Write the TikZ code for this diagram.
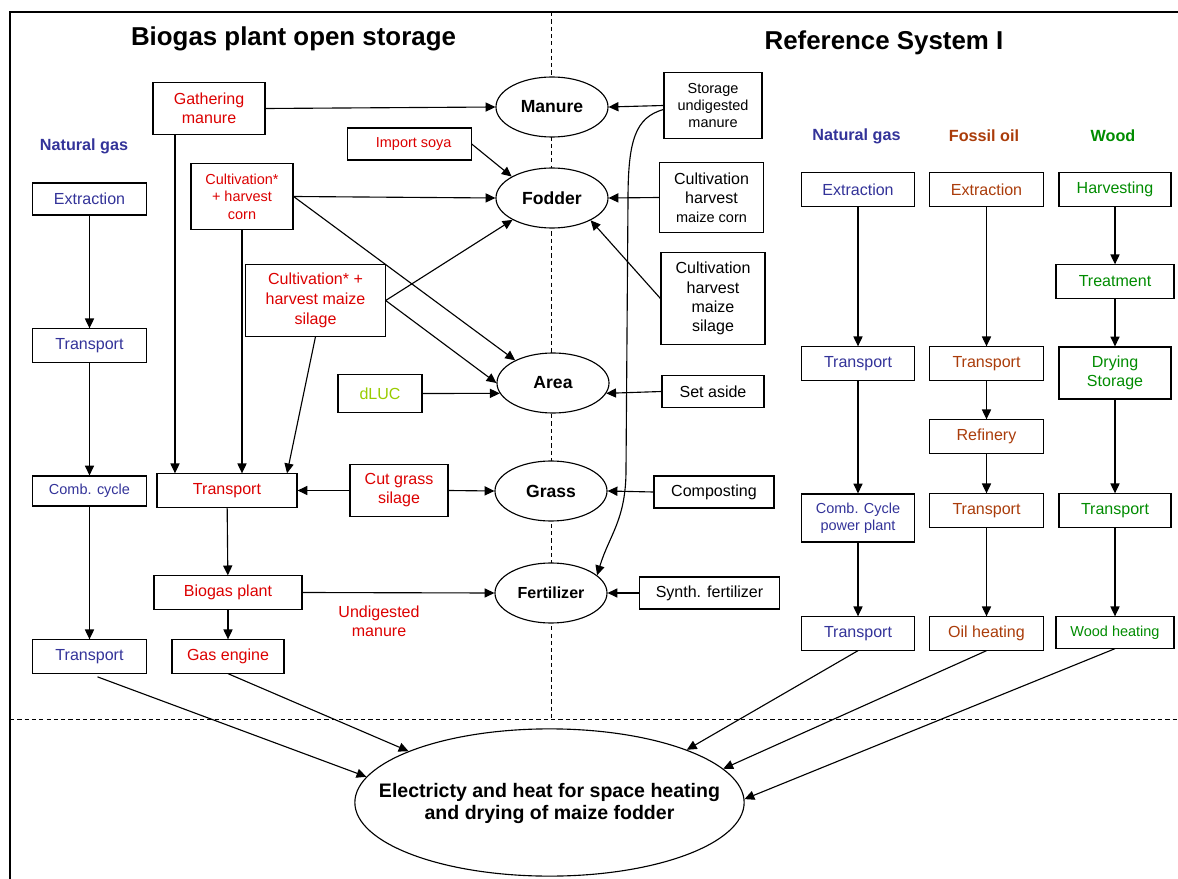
\documentclass[tikz,border=0pt]{standalone}
\usepackage{fontspec}
\setmainfont{Liberation Sans}
\usetikzlibrary{arrows.meta,shapes.geometric}
\definecolor{gasblue}{RGB}{51,51,153}
\definecolor{oilbrown}{RGB}{170,60,10}
\definecolor{woodgreen}{RGB}{0,140,0}
\definecolor{bioRed}{RGB}{220,0,0}
\definecolor{lucgreen}{RGB}{153,204,0}
\newcommand{\nrm}{\fontsize{11.4}{13.6}\selectfont}
\newcommand{\sml}{\fontsize{10.3}{12.4}\selectfont}
\tikzset{every picture/.style={line width=0.8pt}}
\tikzset{
  box/.style={draw, rectangle, fill=white, inner sep=0pt, align=center, font=\nrm},
  sz/.style 2 args={minimum width=#1cm, minimum height=#2cm},
  blob/.style={draw, ellipse, fill=white, inner sep=0pt, minimum width=2.8cm, minimum height=1.5cm, font=\bfseries\fontsize{12.5}{15}\selectfont},
  head/.style={font=\bfseries\fontsize{11.5}{14}\selectfont},
  title/.style={font=\bfseries\fontsize{18.4}{22}\selectfont},
  sep/.style={line width=0.6pt, dash pattern=on 3pt off 2.2pt}
}

\begin{document}
\begin{tikzpicture}[x=0.025cm, y=-0.025cm, >={Triangle[length=7pt,width=6.5pt]}]
    \useasboundingbox (0,0) rectangle (1178,879);
    \draw[line width=1.4pt] (1178,12) -- (10,12) -- (10,879);
    \draw[sep] (551,12) -- (551,719);
    \draw[sep] (10,719) -- (1178,719);

    \node[title] (ttlbio) at (293.5,39) {Biogas plant open storage};
    \node[title] (ttlref) at (884,43) {Reference System I};

    % biogas side, natural gas column
    \node[head, text=gasblue] (ngL) at (84,146) {Natural gas};
    \node[box, sz={2.83}{0.8}, text=gasblue] (ngext) at (89.5,199) {Extraction};
    \node[box, sz={2.83}{0.83}, text=gasblue] (ngtr) at (89.5,345.5) {Transport};
    \node[box, sz={2.83}{0.75}, text=gasblue, font=\sml] (ngcomb) at (89.5,491) {Comb. cycle};
    \node[box, sz={2.83}{0.83}, text=gasblue] (ngtrb) at (89.5,656.5) {Transport};

    % biogas chain
    \node[box, sz={2.8}{1.28}, text=bioRed] (gath) at (209,108.5) {Gathering\\manure};
    \node[box, sz={3.08}{0.8}, text=bioRed, font=\sml] (soya) at (409.5,144) {\hspace{6pt}Import soya};
    \node[box, sz={2.55}{1.63}, text=bioRed, font=\sml] (corn) at (242,196.5) {Cultivation*\\+ harvest\\corn};
    \node[box, sz={3.48}{1.78}, text=bioRed, font=\fontsize{11.4}{14.2}\selectfont] (silage) at (315.5,300.5) {Cultivation* +\\harvest maize\\silage};
    \node[box, sz={2.1}{0.93}, text=lucgreen] (dluc) at (380,393.5) {dLUC};
    \node[box, sz={3.5}{0.83}, text=bioRed] (trred) at (227,490.5) {Transport};
    \node[box, sz={2.45}{1.28}, text=bioRed] (cutgrass) at (399,490.5) {Cut grass\\silage};
    \node[box, sz={3.7}{0.83}, text=bioRed] (biogas) at (228,592.5) {Biogas plant};
    \node[box, sz={2.8}{0.83}, text=bioRed] (gaseng) at (228,656.5) {Gas engine};
    \node[text=bioRed, align=center, font=\nrm] (undig) at (379,621) {Undigested\\manure};

    % middle
    \node[blob] (manure) at (552,107) {Manure};
    \node[blob] (fodder) at (552,198) {Fodder};
    \node[blob] (area) at (553,383) {Area};
    \node[blob] (grass) at (551,491) {Grass};
    \node[blob, font=\bfseries\nrm] (fert) at (551,593) {Fertilizer};

    \node[box, sz={2.45}{1.63}, font=\sml] (storage) at (713,105.5) {Storage\\undigested\\manure};
    \node[box, sz={2.58}{1.73}] (cmc) at (711.5,197.5) {Cultivation\\harvest\\{\sml maize corn}};
    \node[box, sz={2.6}{2.28}] (cms) at (713,298.5) {Cultivation\\harvest\\maize\\silage};
    \node[box, sz={2.55}{0.8}] (setaside) at (713,391.5) {Set aside};
    \node[box, sz={3.0}{0.8}] (compost) at (714,492) {Composting};
    \node[box, sz={3.48}{0.8}] (synth) at (709.5,593) {Synth. fertilizer};

    % reference system
    \node[head, text=gasblue] (rngL) at (856.5,136) {Natural gas};
    \node[head, text=oilbrown] (rfoL) at (984,136) {Fossil oil};
    \node[head, text=woodgreen] (rwL) at (1113,136) {Wood};

    \node[box, sz={2.83}{0.83}, text=gasblue] (rngext) at (858,189.5) {Extraction};
    \node[box, sz={2.83}{0.83}, text=gasblue] (rngtr) at (858,363.5) {Transport};
    \node[box, sz={2.83}{1.2}, text=gasblue, font=\sml] (rngcomb) at (858,518) {Comb. Cycle\\power plant};
    \node[box, sz={2.83}{0.83}, text=gasblue] (rngtrb) at (858,633.5) {Transport};

    \node[box, sz={2.83}{0.83}, text=oilbrown] (foext) at (986.5,189.5) {Extraction};
    \node[box, sz={2.83}{0.83}, text=oilbrown] (fotr) at (986.5,363.5) {Transport};
    \node[box, sz={2.83}{0.83}, text=oilbrown] (foref) at (986.5,436.5) {Refinery};
    \node[box, sz={2.83}{0.83}, text=oilbrown] (fotrb) at (986.5,510.5) {Transport};
    \node[box, sz={2.83}{0.83}, text=oilbrown] (foheat) at (986.5,633.5) {Oil heating};

    \node[box, sz={2.8}{0.83}, text=woodgreen] (wharv) at (1115,189.5) {Harvesting};
    \node[box, sz={2.95}{0.83}, text=woodgreen] (wtreat) at (1115,281.5) {Treatment};
    \node[box, sz={2.8}{1.3}, text=woodgreen] (wdry) at (1115,373) {Drying\\Storage};
    \node[box, sz={2.8}{0.83}, text=woodgreen] (wtr) at (1115,510.5) {Transport};
    \node[box, sz={2.95}{0.78}, text=woodgreen, font=\sml] (wheat) at (1115,632.5) {Wood heating};

    \node[draw, ellipse, fill=white, inner sep=0pt, minimum width=9.73cm, minimum height=3.68cm, font=\bfseries\fontsize{13.9}{15.6}\selectfont] (big) at (549.5,802.5)
        {\makebox[0pt]{\smash{\raisebox{-0.16cm}{\begin{tabular}{@{}c@{}}Electricty and heat for space heating\\and drying of maize fodder\end{tabular}}}}};

    % connectors
    \draw[->] (ngext) -- (ngtr); \draw[->] (ngtr) -- (ngcomb); \draw[->] (ngcomb) -- (ngtrb);
    \draw[->] ([xshift=0.2cm, yshift=-0.08cm]ngtrb.south) -- (big.172);
    \draw[->] (gaseng.south) -- (big.160);

    \draw[->] (gath.east) -- (manure.west);
    \draw[->] ([xshift=-0.85cm]gath.south) -- ([xshift=-0.85cm]gath.south |- trred.north);
    \draw[->] (corn.south) -- (corn.south |- trred.north);
    \draw[->] (silage.south) -- ([xshift=1.5cm]trred.north);
    \draw[->] (corn.east) -- (fodder.west); \draw[->] (corn.east) -- (area.149);
    \draw[->] (silage.east) -- (fodder.209); \draw[->] (silage.east) -- (area.west);
    \draw[->] (soya.east) -- (fodder.152);
    \draw[->] (dluc.east) -- (area.191);
    \draw[->] (cutgrass.west) -- (trred.east); \draw[->] (cutgrass.east) -- (grass.west);
    \draw[->] (trred) -- (biogas); \draw[->] (biogas) -- (gaseng);
    \draw[->] (biogas.east) -- (fert.west);

    \draw[->] (storage.west) -- (manure.east);
    \draw[->] ([yshift=-0.1cm]storage.west) .. controls +(-28,8) and +(0,-60) .. (628,200) -- (626,470) .. controls +(0,50) and +(12,-40) .. (fert.21);
    \draw[->] (cmc.west) -- (fodder.east);
    \draw[->] (cms.west) -- (fodder.-30);
    \draw[->] (setaside.west) -- (area.-11);
    \draw[->] (compost.west) -- (grass.east);
    \draw[->] (synth.west) -- (fert.east);

    \draw[->] (rngext) -- (rngtr); \draw[->] (rngtr) -- (rngcomb); \draw[->] (rngcomb) -- (rngtrb);
    \draw[->] (foext) -- (fotr); \draw[->] (fotr) -- (foref); \draw[->] (foref) -- (fotrb); \draw[->] (fotrb) -- (foheat);
    \draw[->] (wharv) -- (wtreat); \draw[->] (wtreat) -- (wdry); \draw[->] (wdry) -- (wtr); \draw[->] (wtr) -- (wheat);
    \draw[->] (rngtrb.south) -- (big.21);
    \draw[->] (foheat.south) -- (big.11);
    \draw[->] (wheat.south) -- (big.1);
\end{tikzpicture}
\end{document}
